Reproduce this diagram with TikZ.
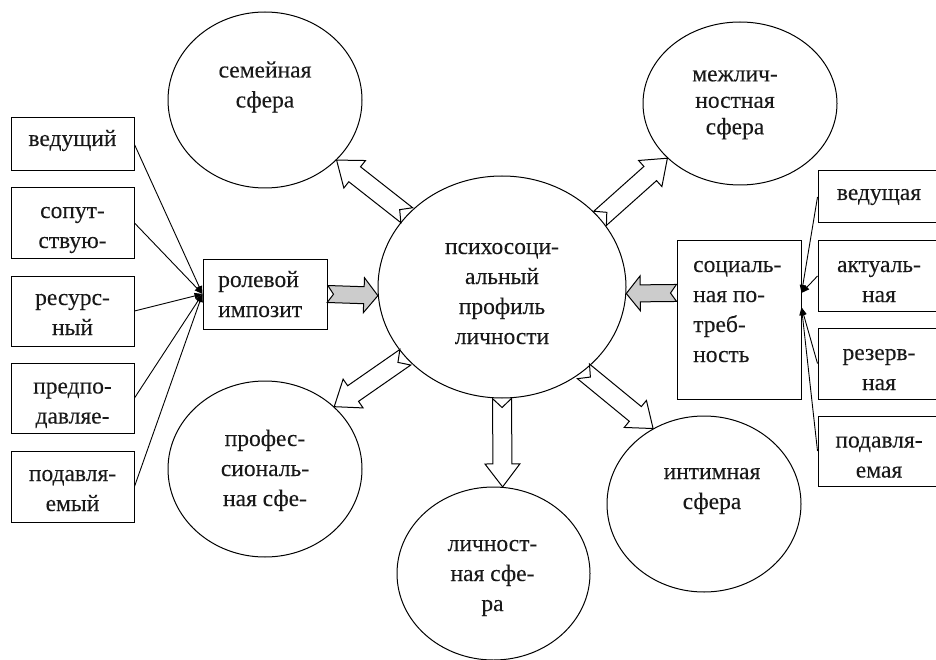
\documentclass[tikz,border=0pt]{standalone}
\usepackage{fontspec}
\setmainfont{Liberation Serif}
\newfontfamily\tnr[FakeBold=0.12]{Liberation Serif}
\usetikzlibrary{shapes.geometric,arrows.meta,calc}
% block arrow: #1 style, #2 tail, #3 tip, #4 half shaft, #5 half head, #6 head length, #7 notch depth
\newcommand\blockarr[7]{%
  \coordinate (bap) at ($(#3)!#6!(#2)$);
  \draw[#1] ($(#2)!#4!90:(#3)$) -- ($(#2)!#7!(#3)$) -- ($(#2)!#4!-90:(#3)$)
    -- ($(bap)!#4!90:(#2)$) -- ($(bap)!#5!90:(#2)$) -- (#3)
    -- ($(bap)!#5!-90:(#2)$) -- ($(bap)!#4!-90:(#2)$) -- cycle;}
\begin{document}
\begin{tikzpicture}[x=1pt,y=-1pt,
  bx/.style={draw, line width=1pt, rectangle, inner sep=0pt, minimum width=123pt},
  el/.style={draw, line width=1pt, ellipse, inner sep=0pt, minimum width=194pt, minimum height=176pt},
  txt/.style={font=\tnr\fontsize{23.5}{30}\selectfont, align=center, inner sep=0pt, text=black!90},
  conn/.style={line width=0.9pt, -{Triangle[length=8pt,width=6pt]}},
  hollow/.style={draw, fill=white, line width=1pt, line join=miter},
  grayarr/.style={draw, fill=gray!40, line width=1pt, line join=miter}]
\useasboundingbox (0,0) rectangle (936,660);
\clip (0,0) rectangle (936,660);

% ellipses
\node[el, minimum width=248pt, minimum height=222pt] (psy) at (502,287) {};
\node[el] (fam) at (265,100) {};
\node[el, minimum height=163pt] (mezh) at (740,103.5) {};
\node[el] (prof) at (265,469) {};
\node[el, minimum width=193pt, minimum height=173pt] (lich) at (493.5,573.5) {};
\node[el] (intim) at (704,504) {};

\node[txt] (famt) at (265,86.5) {\strut семейная\\\strut сфера};
\node[txt, font=\tnr\fontsize{23.5}{26.5}\selectfont] (mezht) at (735,102.5) {\strut межлич-\\\strut ностная\\\strut сфера};
\node[txt] (psyt) at (502,293) {\strut психосоци-\\\strut альный\\\strut профиль\\\strut личности};
\node[txt] (proft) at (265,470) {\strut профес-\\\strut сиональ-\\\strut ная сфе-};
\node[txt] (licht) at (492.5,575) {\strut личност-\\\strut ная сфе-\\\strut ра};
\node[txt] (intimt) at (712,488) {\strut интимная\\\strut сфера};

% left boxes
\node[bx, minimum height=53pt] (b1) at (72.5,144.5) {};
\node[bx, minimum height=70pt] (b2) at (72.5,223) {};
\node[bx, minimum height=70pt] (b3) at (72.5,311) {};
\node[bx, minimum height=70pt] (b4) at (72.5,398) {};
\node[bx, minimum height=71pt] (b5) at (72.5,486.5) {};
\node[txt] (b1t) at (72.5,140) {\strut ведущий};
\node[txt] (b2t) at (72.5,227) {\strut сопут-\\\strut ствую-};
\node[txt] (b3t) at (72.5,314) {\strut ресурс-\\\strut ный};
\node[txt] (b4t) at (72.5,402.5) {\strut предпо-\\\strut давляе-};
\node[txt] (b5t) at (72.5,490) {\strut подавля-\\\strut емый};

% role box
\node[bx, minimum width=124pt, minimum height=70pt] (role) at (265,294) {};
\node[txt, align=left, anchor=west] (rolet) at (218,296) {\strut ролевой\\\strut импозит};

% social box
\node[bx, minimum width=124pt, minimum height=158pt] (soc) at (739,320) {};
\node[txt, align=left, anchor=west] (soct) at (693,311) {\strut социаль-\\\strut ная по-\\\strut треб-\\\strut ность};

% right boxes
\node[bx, minimum width=122pt, minimum height=52pt] (r1) at (879,197) {};
\node[bx, minimum width=122pt, minimum height=70pt] (r2) at (879,276) {};
\node[bx, minimum width=122pt, minimum height=71pt] (r3) at (879,363.5) {};
\node[bx, minimum width=122pt, minimum height=70pt] (r4) at (879,451) {};
\node[txt] (r1t) at (879,194) {\strut ведущая};
\node[txt] (r2t) at (879,281) {\strut актуаль-\\\strut ная};
\node[txt] (r3t) at (879,369) {\strut резерв-\\\strut ная};
\node[txt] (r4t) at (879,456.5) {\strut подавля-\\\strut емая};

% connectors
\foreach \b in {b1,b2,b3,b4,b5} \draw[conn] (\b.east) -- (role.west);
\coordinate (socw) at ($(soc.north west)!0.33!(soc.south west)$);
\coordinate (socea) at ($(soc.north east)!0.33!(soc.south east)$);
\coordinate (soceb) at ($(soc.north east)!0.42!(soc.south east)$);
\draw[conn] (r1.west) -- (socea);
\draw[conn] (r2.west) -- (socea);
\draw[conn] (r3.west) -- (soceb);
\draw[conn] (r4.west) -- (soceb);

% block arrows
\blockarr{hollow}{psy.143}{fam.-40}{9.5pt}{17.5pt}{23pt}{9pt}
\blockarr{hollow}{psy.35}{mezh.217}{9.5pt}{17.5pt}{23pt}{9pt}
\blockarr{hollow}{psy.216}{prof.42}{9.5pt}{17.5pt}{23pt}{9pt}
\blockarr{hollow}{psy.-46}{intim.124}{9.5pt}{17.5pt}{23pt}{9pt}
\blockarr{hollow}{psy.-90}{lich.84}{9.5pt}{17.5pt}{23pt}{9pt}
\blockarr{grayarr}{role.east}{psy.184}{8.5pt}{17.5pt}{14pt}{6pt}
\blockarr{grayarr}{socw}{psy.-3}{8.5pt}{17.5pt}{14pt}{6pt}
\end{tikzpicture}
\end{document}
